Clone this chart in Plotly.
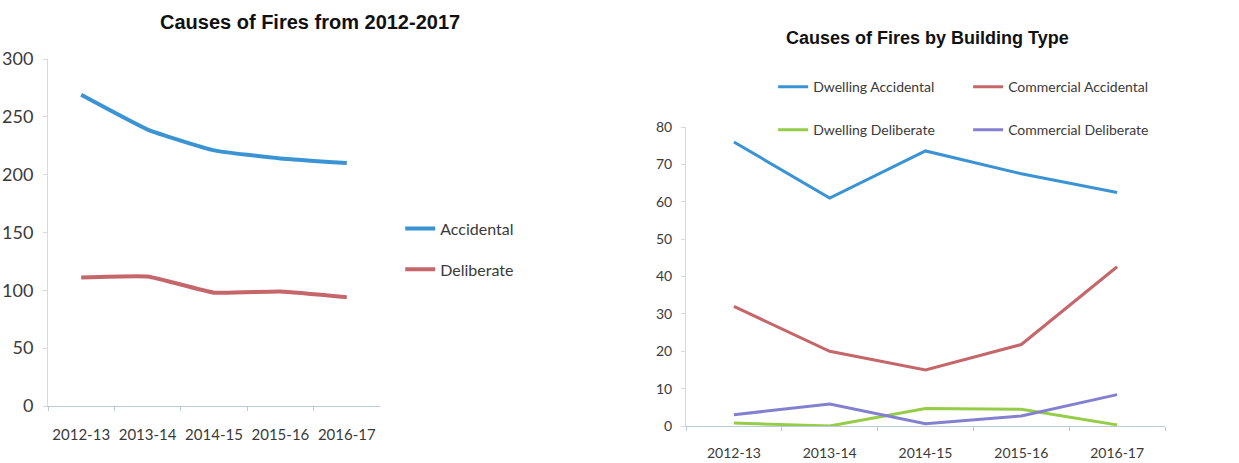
import plotly.graph_objects as go
from plotly.subplots import make_subplots

# 数据
years = ["2012-13", "2013-14", "2014-15", "2015-16", "2016-17"]

accidental = [269, 239, 221, 214, 210]
deliberate = [111, 112, 98, 99, 94]

dwelling_accidental = [76, 61, 73.6, 67.5, 62.5]
commercial_accidental = [32, 20, 15, 21.8, 42.6]
dwelling_deliberate = [0.8, 0, 4.7, 4.5, 0.3]
commercial_deliberate = [3, 5.9, 0.6, 2.7, 8.4]

blue = "#3a94d4"
red = "#c4666a"
green = "#95cc48"
purple = "#8480d0"
tick_font = dict(family="Lato, Open Sans, sans-serif", size=15, color="#3a3a3a")

fig = make_subplots(rows=1, cols=2)

# 左图
fig.add_trace(go.Scatter(x=years, y=accidental, name="Accidental", mode="lines",
                         line=dict(color=blue, width=4, shape="spline", smoothing=0.4),
                         legendgroup="a", legend="legend"), row=1, col=1)
fig.add_trace(go.Scatter(x=years, y=deliberate, name="Deliberate", mode="lines",
                         line=dict(color=red, width=4, shape="spline", smoothing=0.4),
                         legendgroup="b", legend="legend"), row=1, col=1)

# 右图
fig.add_trace(go.Scatter(x=years, y=dwelling_accidental, name="Dwelling Accidental", mode="lines",
                         line=dict(color=blue, width=3), legend="legend2"), row=1, col=2)
fig.add_trace(go.Scatter(x=years, y=commercial_accidental, name="Commercial Accidental", mode="lines",
                         line=dict(color=red, width=3), legend="legend2"), row=1, col=2)
fig.add_trace(go.Scatter(x=years, y=dwelling_deliberate, name="Dwelling Deliberate", mode="lines",
                         line=dict(color=green, width=3), legend="legend3"), row=1, col=2)
fig.add_trace(go.Scatter(x=years, y=commercial_deliberate, name="Commercial Deliberate", mode="lines",
                         line=dict(color=purple, width=3), legend="legend3"), row=1, col=2)

fig.update_layout(
    width=1239, height=463,
    margin=dict(l=0, r=0, t=0, b=0, autoexpand=False),
    paper_bgcolor="white", plot_bgcolor="white",
    legend=dict(x=0.323, y=0.462, xanchor="left", yanchor="middle",
                traceorder="grouped", tracegroupgap=17, itemwidth=30,
                font=dict(family="Lato, sans-serif", size=16, color="#3a3a3a"),
                bgcolor="rgba(0,0,0,0)"),
    legend2=dict(orientation="h", x=0.624, y=0.812, xanchor="left", yanchor="middle",
                 entrywidth=150, itemwidth=30,
                 font=dict(family="Lato, sans-serif", size=14, color="#3a3a3a"),
                 bgcolor="rgba(0,0,0,0)"),
    legend3=dict(orientation="h", x=0.624, y=0.719, xanchor="left", yanchor="middle",
                 entrywidth=150, itemwidth=30,
                 font=dict(family="Lato, sans-serif", size=14, color="#3a3a3a"),
                 bgcolor="rgba(0,0,0,0)"),
    annotations=[
        dict(text="<b>Causes of Fires from 2012-2017</b>", x=310 / 1239, y=1 - 22 / 463,
             xref="paper", yref="paper", showarrow=False, xanchor="center", yanchor="middle",
             font=dict(family="Liberation Sans, Arial, sans-serif", size=20, color="#111111")),
        dict(text="<b>Causes of Fires by Building Type</b>", x=927 / 1239, y=1 - 38 / 463,
             xref="paper", yref="paper", showarrow=False, xanchor="center", yanchor="middle",
             font=dict(family="Liberation Sans, Arial, sans-serif", size=18, color="#111111")),
    ],
)

# 坐标轴
fig.update_xaxes(domain=[48 / 1239, 380 / 1239], row=1, col=1)
fig.update_yaxes(domain=[1 - 406 / 463, 1 - 59 / 463], range=[0, 300], dtick=50, row=1, col=1)
fig.update_xaxes(domain=[686 / 1239, 1165 / 1239], row=1, col=2)
fig.update_yaxes(domain=[1 - 426 / 463, 1 - 127 / 463], range=[0, 80], dtick=10, row=1, col=2)

fig.update_xaxes(range=[-0.5, 4.5], tickangle=0, showgrid=False, showline=True,
                 linecolor="#b9cad8", linewidth=1,
                 ticks="outside", tickson="boundaries", ticklen=4, tickcolor="#b9cad8",
                 tickfont=tick_font, ticklabelstandoff=15, fixedrange=True)
fig.update_yaxes(showgrid=False, showline=True, linecolor="#d9d9d9", linewidth=1,
                 ticks="outside", ticklen=4, tickcolor="#d9d9d9", zeroline=False,
                 tickfont=tick_font, ticklabelstandoff=6, fixedrange=True)
fig.update_yaxes(tickfont=dict(size=18), row=1, col=1)
fig.update_xaxes(tickfont=dict(size=14), ticklabelstandoff=14, row=1, col=2)
fig.update_yaxes(tickfont=dict(size=14), row=1, col=2)

# 去掉页面默认边距
fig.write_html("out.html", config={"displayModeBar": False},
               post_script="document.body.style.margin='0px';")
